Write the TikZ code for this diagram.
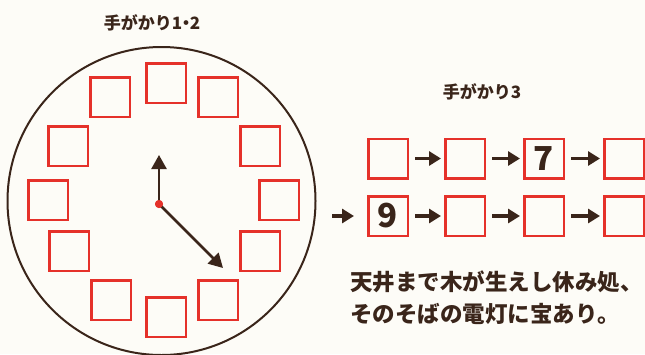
\documentclass[tikz,border=0pt]{standalone}
\usepackage{fontspec}
\newfontfamily\jp{Noto Sans CJK JP Black}
\usetikzlibrary{arrows.meta}
\definecolor{bg}{HTML}{FDFCF7}
\definecolor{ink}{HTML}{3A251A}
\definecolor{boxred}{HTML}{E5312A}
\begin{document}
\begin{tikzpicture}[x=1pt,y=-1pt,
  slot/.style={draw=boxred, line width=2.5pt, minimum size=39.5pt, inner sep=0pt,
    font=\jp\fontsize{33}{33}\selectfont, text=ink},
  flow/.style={draw=ink, line width=3.5pt, -{Triangle[length=12pt,width=14pt]},
    shorten <=6pt, shorten >=3pt},
  hand/.style={draw=ink, line width=2.5pt, -{Triangle[length=14pt,width=15pt]}},
  title/.style={font=\jp\fontsize{17}{20}\selectfont, text=ink, inner sep=0pt},
  verse/.style={font=\jp\fontsize{22.5}{26}\selectfont, text=ink, inner sep=0pt, anchor=west}]
\fill[bg] (0,0) rectangle (645,354);
\useasboundingbox (0,0) rectangle (645,354);
% clock face
\draw[ink, line width=2pt] (161.5,201) circle [radius=154pt];
\node[slot] (c12) at (166,83) {};
\node[slot] (c1) at (218,97) {};
\node[slot] (c2) at (260,146) {};
\node[slot] (c3) at (279,200) {};
\node[slot] (c4) at (260,251) {};
\node[slot] (c5) at (218,300) {};
\node[slot] (c6) at (166,317) {};
\node[slot] (c7) at (111,300) {};
\node[slot] (c8) at (69,251) {};
\node[slot] (c9) at (48,200) {};
\node[slot] (c10) at (68,146) {};
\node[slot] (c11) at (110,97) {};
% hands
\coordinate (hr) at (159,155);
\coordinate (mn) at (223,268);
\node[circle, fill=boxred, inner sep=0pt, minimum size=8pt] (pivot) at (159,204) {};
\draw[hand] (pivot.center) -- (hr);
\draw[hand] (pivot.center) -- (mn);
\fill[boxred] (pivot.center) circle [radius=4pt];
% titles
\node[title] (t12) at (152,23) {手がかり1\kern-0.28em・\kern-0.28em2};
\node[title] (t3) at (482,92) {手がかり3};
% sequence
\node[slot] (r1) at (388,158.5) {};
\node[slot] (r2) at (465,158.5) {};
\node[slot] (r3) at (544,158.5) {7};
\node[slot] (r4) at (624,158.5) {};
\node[slot] (s1) at (388,216) {9};
\node[slot] (s2) at (465,216) {};
\node[slot] (s3) at (544,216) {};
\node[slot] (s4) at (624,216) {};
\coordinate (s0) at (332,216);
\draw[flow] (r1) -- (r2);
\draw[flow] (r2) -- (r3);
\draw[flow] (r3) -- (r4);
\draw[flow, shorten <=0pt, shorten >=13pt] (s0) -- (s1);
\draw[flow] (s1) -- (s2);
\draw[flow] (s2) -- (s3);
\draw[flow] (s3) -- (s4);
% verse
\node[verse] (v1) at (350,281.5) {天井まで木が生えし休み処、};
\node[verse] (v2) at (350,313.5) {そのそばの電灯に宝あり。};
\end{tikzpicture}
\end{document}
